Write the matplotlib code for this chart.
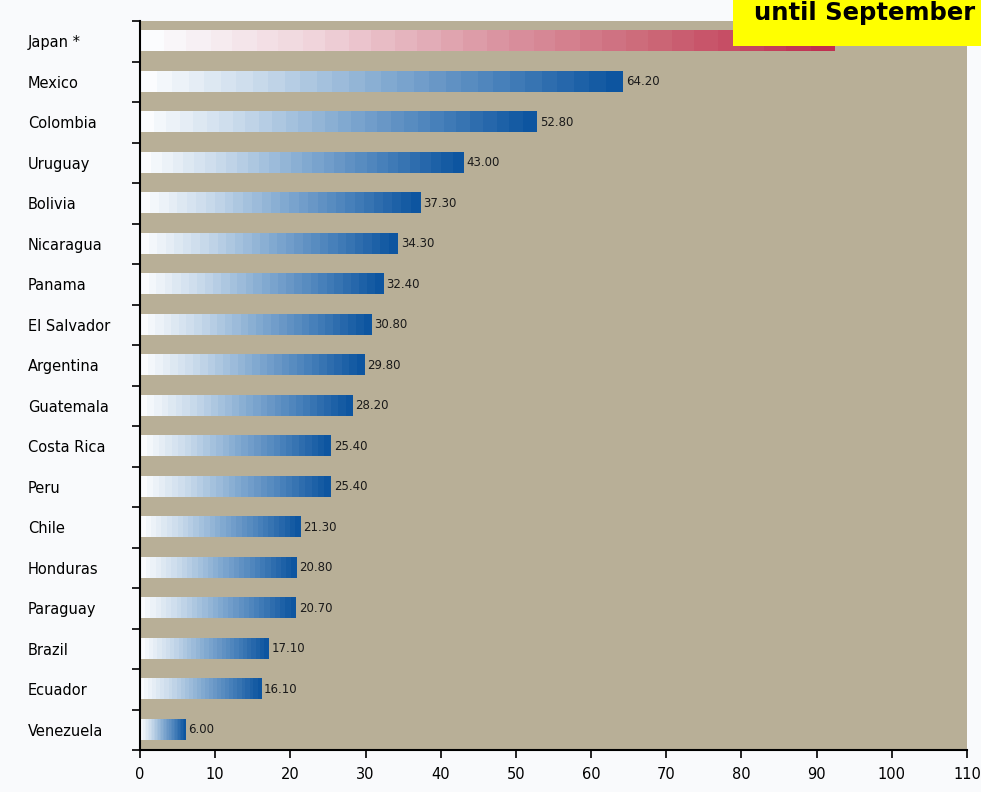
import numpy as np
import matplotlib
matplotlib.use("Agg")
import matplotlib.pyplot as plt
from matplotlib.colors import LinearSegmentedColormap

# data (top to bottom)
countries = ["Japan *", "Mexico", "Colombia", "Uruguay", "Bolivia", "Nicaragua",
             "Panama", "El Salvador", "Argentina", "Guatemala", "Costa Rica", "Peru",
             "Chile", "Honduras", "Paraguay", "Brazil", "Ecuador", "Venezuela"]
values = [92.40, 64.20, 52.80, 43.00, 37.30, 34.30, 32.40, 30.80, 29.80, 28.20,
          25.40, 25.40, 21.30, 20.80, 20.70, 17.10, 16.10, 6.00]
highlight = ["Japan *"]

blue_cmap = LinearSegmentedColormap.from_list(
    "blu", ["#fbfcfe", "#c6d8ea", "#86acd2", "#4a82bb", "#0d55a0"], N=30)
red_cmap = LinearSegmentedColormap.from_list(
    "red", ["#fbfcfe", "#f0d3da", "#dc98a5", "#cc6777", "#c03050"], N=30)

fig = plt.figure(figsize=(9.81, 7.92), dpi=100, facecolor="#f9fafc")
ax = fig.add_axes([140 / 981, 1 - 750 / 792, 827 / 981, 729 / 792])
ax.set_facecolor("#b8af97")

n = len(countries)
grad = np.linspace(0, 1, 256).reshape(1, -1)
for i, (c, v) in enumerate(zip(countries, values)):
    y = n - 1 - i
    cmap = red_cmap if c in highlight else blue_cmap
    ax.imshow(grad, cmap=cmap, aspect="auto", interpolation="nearest",
              extent=[0, v, y - 0.25, y + 0.25], zorder=2)
    ax.text(v + 0.4, y, f"{v:.2f}", va="center", ha="left", fontsize=8.5,
            color="#1a1a1a", zorder=3)

ax.set_xlim(0, 110)
ax.set_ylim(-0.5, n - 0.5)
ax.set_xticks(np.arange(0, 111, 10))
ax.set_yticks(np.arange(n))
ax.set_yticklabels(countries[::-1], fontsize=10.5, ha="left")
ax.set_yticks(np.arange(n + 1) - 0.5, minor=True)
# pad is in points: labels start about 112 px left of the axis
ax.tick_params(axis="y", which="major", length=0, pad=112 * 0.72)
ax.tick_params(axis="y", which="minor", length=6, width=1.2, direction="out")
ax.tick_params(axis="x", length=6, width=1.2, labelsize=10.5, pad=6)

for s in ["top", "right"]:
    ax.spines[s].set_visible(False)
ax.spines["left"].set_linewidth(1.5)
ax.spines["bottom"].set_linewidth(1.5)

# yellow note box in the top right corner
fig.patches.append(plt.Rectangle((733 / 981, 1 - 46 / 792), 248 / 981, 46 / 792,
                                 transform=fig.transFigure, facecolor="#ffff00",
                                 edgecolor="none", zorder=5))
fig.text(975 / 981, 1 - 13 / 792, "until September", ha="right", va="center",
         fontsize=17.5, fontweight="bold", color="black", zorder=6)

fig.savefig("out.png", dpi=100, facecolor=fig.get_facecolor())
